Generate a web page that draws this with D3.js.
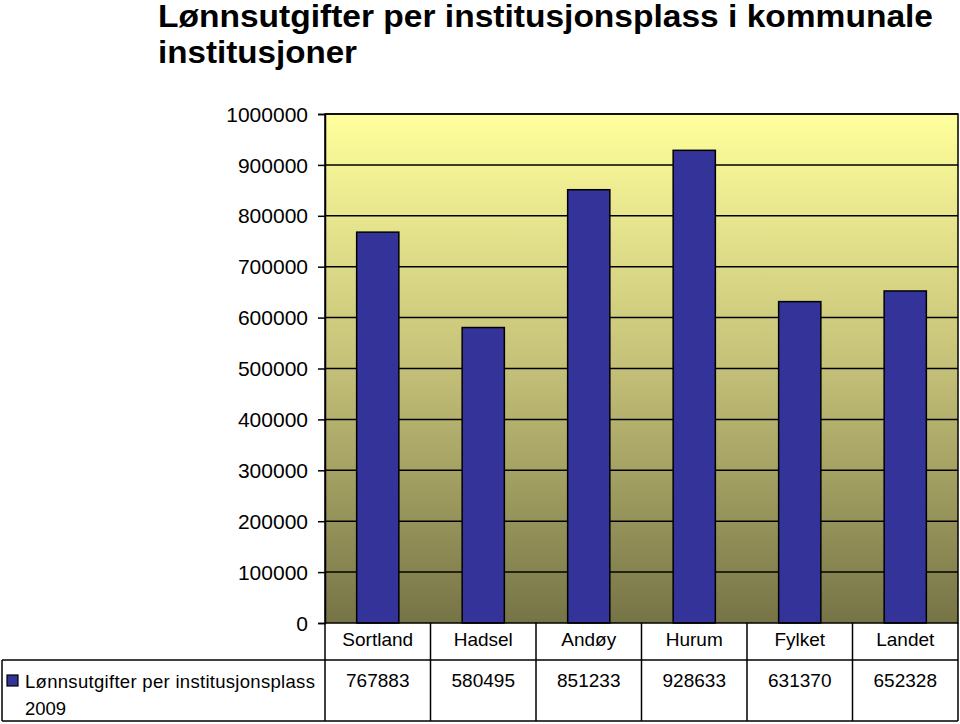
<!DOCTYPE html>
<html><head><meta charset="utf-8">
<script src="https://cdn.jsdelivr.net/npm/d3@7"></script>
<style>body{margin:0;background:#fff}svg{display:block;font-family:Arial,"Liberation Sans",sans-serif}</style>
</head><body>
<svg id="c" width="960" height="724"></svg>
<script>
const titleLines = ["Lønnsutgifter per institusjonsplass i kommunale", "institusjoner"];
const categories = ["Sortland", "Hadsel", "Andøy", "Hurum", "Fylket", "Landet"];
const values = [767883, 580495, 851233, 928633, 631370, 652328];
const seriesName = ["Lønnsutgifter per institusjonsplass", "2009"];
const yTicks = [0,100000,200000,300000,400000,500000,600000,700000,800000,900000,1000000];

const svg = d3.select("#c");
const L = 325, R = 958, T = 114, B = 623;
const x = d3.scaleBand().domain(categories).range([L, R]).paddingInner(0.6).paddingOuter(0.3);
const xb = d3.scaleBand().domain(categories).range([L, R]);
const y = d3.scaleLinear().domain([0, 1000000]).range([B, T]);

const defs = svg.append("defs");
const g = defs.append("linearGradient").attr("id","bg").attr("x1",0).attr("y1",0).attr("x2",0).attr("y2",1);
g.append("stop").attr("offset","0%").attr("stop-color","#ffff9c");
g.append("stop").attr("offset","50%").attr("stop-color","#c4c078");
g.append("stop").attr("offset","100%").attr("stop-color","#767446");

svg.append("rect").attr("x",L).attr("y",T).attr("width",R-L).attr("height",B-T).attr("fill","url(#bg)");

// title
svg.append("g").selectAll("text").data(titleLines).join("text")
  .attr("x",158).attr("y",(d,i)=>27+i*36).attr("font-size",31).attr("font-weight","bold").attr("fill","#000")
  .attr("textLength",(d,i)=>i===0?775:199).attr("lengthAdjust","spacingAndGlyphs").text(d=>d);

// gridlines
svg.append("g").selectAll("line").data(yTicks.filter(d=>d>0)).join("line")
  .attr("x1",L).attr("x2",R).attr("y1",d=>y(d)).attr("y2",d=>y(d)).attr("stroke","#000").attr("stroke-width",1.5);

// y axis
const ya = svg.append("g").attr("transform",`translate(${L},0)`)
  .call(d3.axisLeft(y).tickValues(yTicks).tickFormat(d3.format("d")).tickSize(7).tickPadding(10));
ya.select(".domain").attr("stroke","#000").attr("stroke-width",1.5);
ya.selectAll(".tick line").attr("stroke","#000").attr("stroke-width",1.5);
ya.selectAll(".tick text").attr("font-size",21).attr("fill","#000").attr("font-family","Arial, 'Liberation Sans', sans-serif").attr("dy","0.34em");

// bars
svg.append("g").selectAll("rect").data(values).join("rect")
  .attr("x",(d,i)=>x(categories[i])).attr("width",x.bandwidth())
  .attr("y",d=>y(d)).attr("height",d=>B-y(d))
  .attr("fill","#333399").attr("stroke","#000").attr("stroke-width",1.5);

// plot border
svg.append("rect").attr("x",L).attr("y",T).attr("width",R-L).attr("height",B-T).attr("fill","none").attr("stroke","#000").attr("stroke-width",1.5);

// data table
const tb = svg.append("g").attr("stroke","#000").attr("stroke-width",1.5);
const rowTop = 660, rowBot = 721;
tb.append("line").attr("x1",2).attr("x2",R).attr("y1",rowTop).attr("y2",rowTop);
tb.append("line").attr("x1",2).attr("x2",R).attr("y1",rowBot).attr("y2",rowBot);
tb.append("line").attr("x1",2).attr("x2",2).attr("y1",rowTop).attr("y2",rowBot);
tb.selectAll(".v").data(categories).join("line").attr("class","v")
  .attr("x1",d=>xb(d)).attr("x2",d=>xb(d)).attr("y1",B).attr("y2",rowBot);
tb.append("line").attr("x1",R).attr("x2",R).attr("y1",B).attr("y2",rowBot);

svg.append("g").selectAll("text").data(categories).join("text")
  .attr("x",d=>xb(d)+xb.bandwidth()/2).attr("y",646).attr("text-anchor","middle")
  .attr("font-size",19).attr("fill","#000").text(d=>d);
svg.append("g").selectAll("text").data(values).join("text")
  .attr("x",(d,i)=>xb(categories[i])+xb.bandwidth()/2).attr("y",687).attr("text-anchor","middle")
  .attr("font-size",19).attr("fill","#000").text(d=>d);

// legend key
svg.append("rect").attr("x",7).attr("y",675).attr("width",11).attr("height",11).attr("fill","#333399").attr("stroke","#000").attr("stroke-width",1.2);
svg.append("g").selectAll("text").data(seriesName).join("text")
  .attr("x",25).attr("y",(d,i)=>688+i*27).attr("font-size",18.5).attr("letter-spacing",(d,i)=>i===0?"0.3px":"0").attr("fill","#000").text(d=>d);
</script>
</body></html>
